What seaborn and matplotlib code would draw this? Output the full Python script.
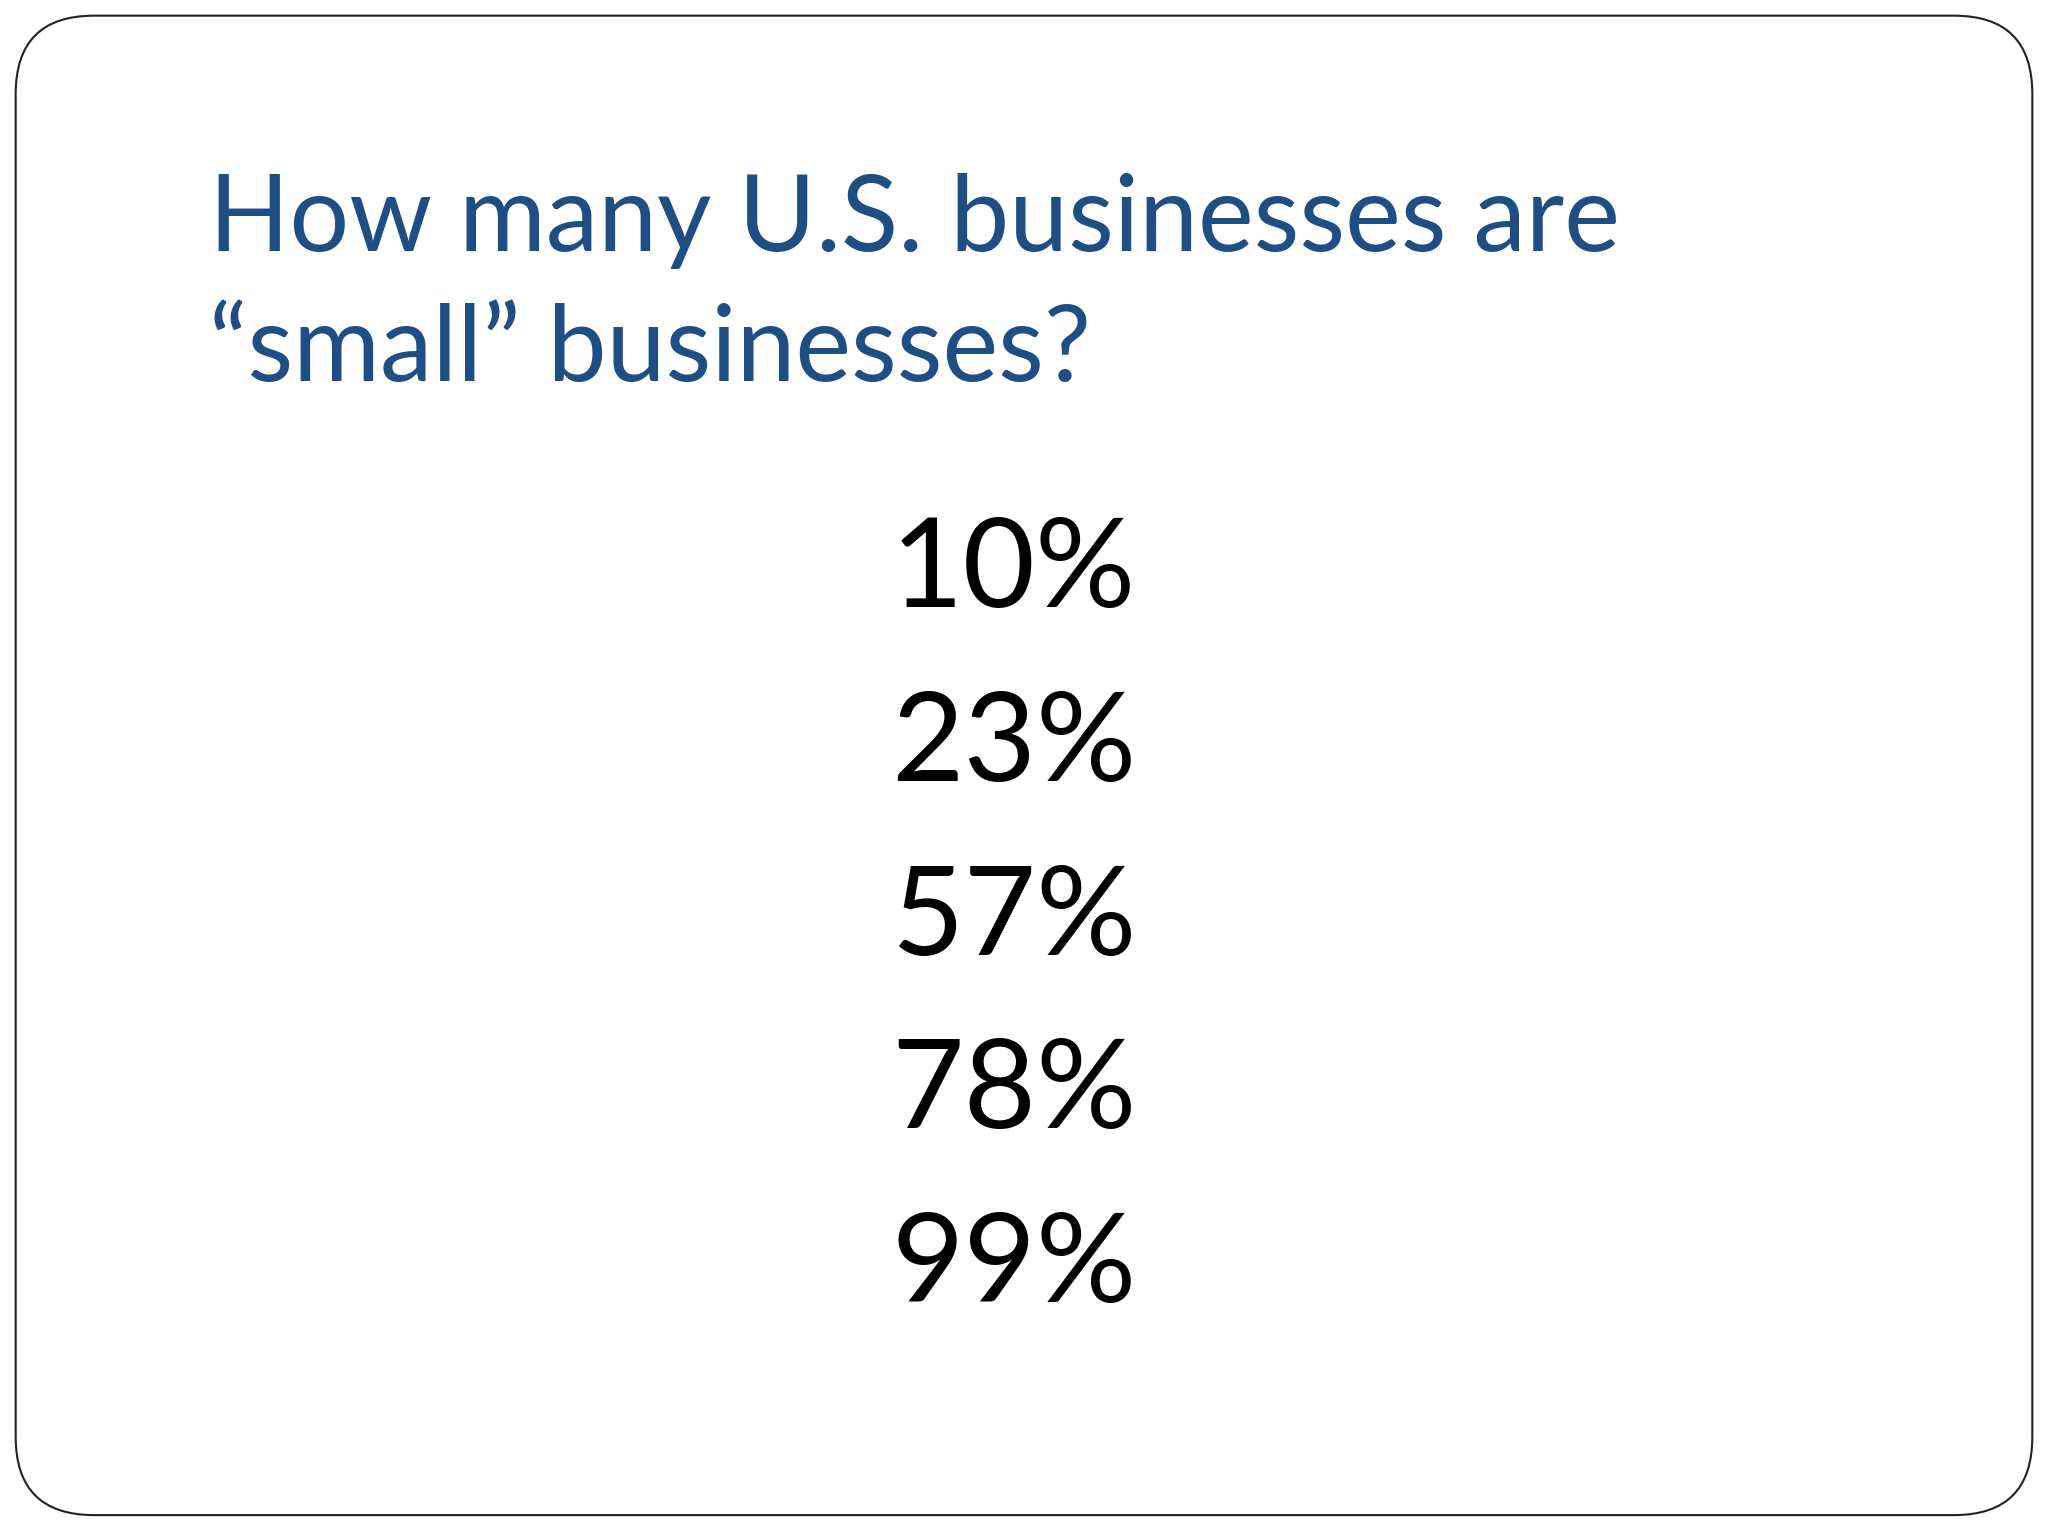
import matplotlib
matplotlib.use("Agg")
import matplotlib.pyplot as plt
from matplotlib.patches import FancyBboxPatch
import seaborn as sns

# Slide content
title_lines = ["How many U.S. businesses are", "\u201csmall\u201d businesses?"]
answers = ["10%", "23%", "57%", "78%", "99%"]

sns.set_theme(style="white")
plt.rcParams['font.family'] = ['Lato', 'DejaVu Sans']

fig = plt.figure(figsize=(20.48, 15.36), dpi=100)
ax = fig.add_axes([0, 0, 1, 1])
ax.set_xlim(0, 1568)
ax.set_ylim(1176, 0)
ax.axis("off")

# rounded slide border
box = FancyBboxPatch((12, 12), 1544, 1148, boxstyle="round,pad=0,rounding_size=60",
                     fill=False, edgecolor="#222222", linewidth=1.5)
ax.add_patch(box)

# title
for i, line in enumerate(title_lines):
    ax.text(160, 192 + i * 100, line, fontsize=76, color="#1F4E85",
            ha="left", va="baseline")

# answer choices
for i, a in enumerate(answers):
    ax.text(870, 465 + i * 133, a, fontsize=90, color="black",
            ha="right", va="baseline")

fig.savefig("out.png", dpi=100)
